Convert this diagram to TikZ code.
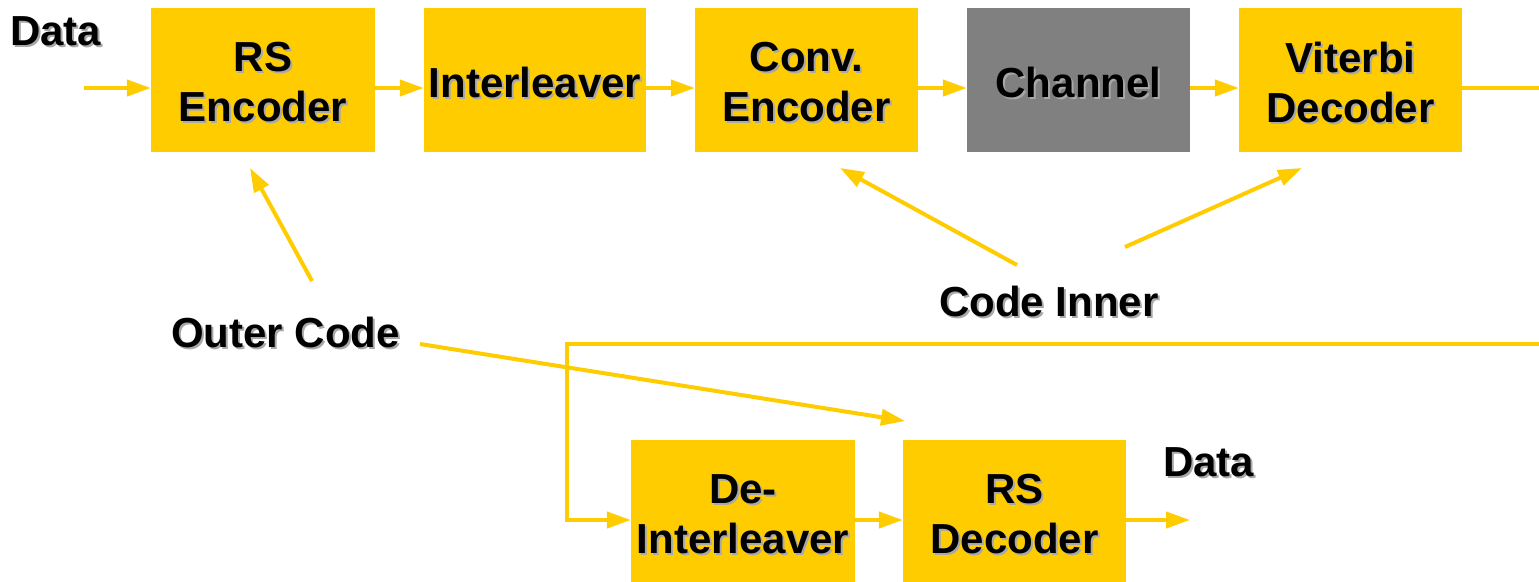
\documentclass[tikz,border=0pt]{standalone}
\usepackage{fontspec}
\setmainfont{Liberation Sans}
\usetikzlibrary{arrows.meta,calc}
\definecolor{ylw}{HTML}{FFCC00}
\definecolor{chgray}{HTML}{808080}
\definecolor{shadowc}{HTML}{A8A8A8}
\newcommand\shd[1]{\leavevmode\rlap{\kern2pt\raisebox{-2pt}{\textcolor{shadowc}{#1}}}#1}
\begin{document}
\begin{tikzpicture}[x=1pt,y=-1pt,
  box/.style={fill=ylw,draw=none,minimum width=223pt,minimum height=144pt,inner sep=0pt},
  btext/.style={inner sep=0pt,align=center,yshift=-3pt,font=\fontsize{42}{50}\selectfont\bfseries},
  lbl/.style={inner sep=0pt,anchor=base west,font=\fontsize{42}{50}\selectfont\bfseries},
  conn/.style={draw=ylw,line width=4pt},
  arr/.style={conn,-{Triangle[length=24pt,width=16pt]}}]
\useasboundingbox (0,0) rectangle (1539,581);
\clip (0,0) rectangle (1539,581);
% top row
\node[box,minimum width=224pt,label={[btext]center:{\shd{RS}\\\shd{Encoder}}}] (rse) at (263,80) {};
\node[box,minimum width=222pt,label={[btext]center:{\shd{Interleaver}}}] (intl) at (535,80) {};
\node[box,label={[btext]center:{\shd{Conv.}\\\shd{Encoder}}}] (conv) at (806.5,80) {};
\node[box,fill=chgray,label={[btext]center:{\shd{Channel}}}] (chan) at (1078.5,80) {};
\node[box,label={[btext]center:{\shd{Viterbi}\\\shd{Decoder}}}] (vit) at (1350.5,80) {};
% bottom row
\node[box,minimum width=224pt,label={[btext]center:{\shd{De-}\\\shd{Interleaver}}}] (deint) at (743,512) {};
\node[box,label={[btext]center:{\shd{RS}\\\shd{Decoder}}}] (rsd) at (1014.5,512) {};
% labels
\node[lbl] (din) at (10,45) {\shd{Data}};
\node[lbl] (outer) at (171,347) {\shd{Outer Code}};
\node[lbl] (inner) at (939,316) {\shd{Code Inner}};
\node[lbl] (dout) at (1163,476) {\shd{Data}};
% coordinates
\coordinate (inpt) at (84,88);
\coordinate (outpt) at (1190,520);
\coordinate (rr) at (1560,88);
\coordinate (fb) at (567,344);
\coordinate (oc1) at (312,281);
\coordinate (oc1t) at (250,168);
\coordinate (oc2) at (420,344);
\coordinate (oc2t) at (905,421);
\coordinate (ci1) at (1017,265);
\coordinate (ci1t) at (840,168);
\coordinate (ci2) at (1125,247);
\coordinate (ci2t) at (1302,168);
% chain
\draw[arr] (inpt) -- (inpt -| rse.west);
\draw[arr] ([yshift=-8pt]rse.east) -- ([yshift=-8pt]intl.west);
\draw[arr] ([yshift=-8pt]intl.east) -- ([yshift=-8pt]conv.west);
\draw[arr] ([yshift=-8pt]conv.east) -- ([yshift=-8pt]chan.west);
\draw[arr] ([yshift=-8pt]chan.east) -- ([yshift=-8pt]vit.west);
\draw[arr] ([yshift=-8pt]vit.east) -- (rr) -- (rr |- fb) -- (fb) -- (fb |- outpt) -- (outpt -| deint.west);
\draw[arr] ([yshift=-8pt]deint.east) -- ([yshift=-8pt]rsd.west);
\draw[arr] ([yshift=-8pt]rsd.east) -- (outpt);
% label arrows
\draw[arr] (oc1) -- (oc1t);
\draw[arr] (oc2) -- (oc2t);
\draw[arr] (ci1) -- (ci1t);
\draw[arr] (ci2) -- (ci2t);
\end{tikzpicture}
\end{document}
